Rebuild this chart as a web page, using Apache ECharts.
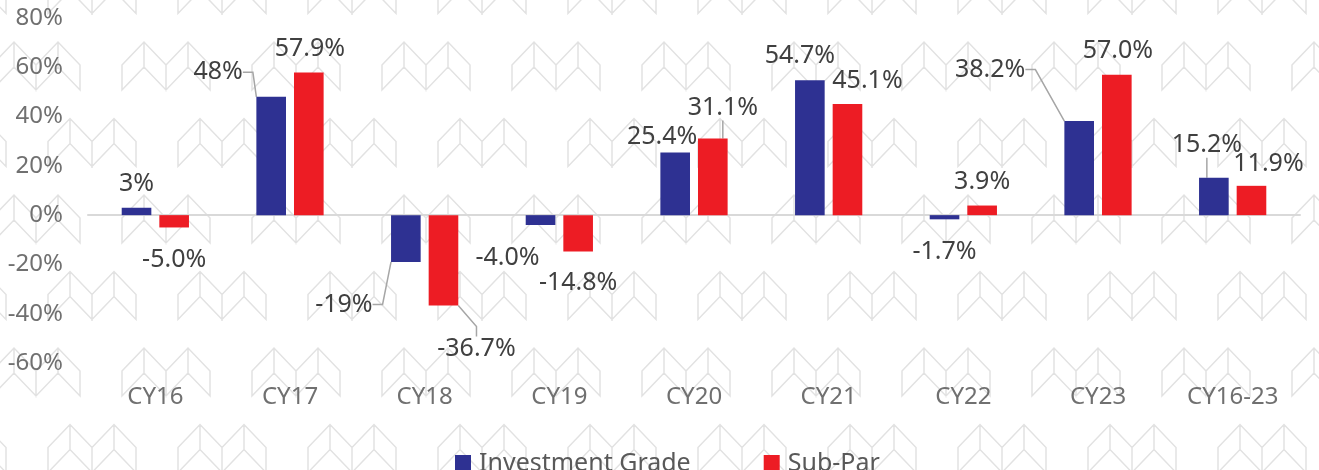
<!DOCTYPE html>
<html>
<head>
<meta charset="utf-8">
<script src="https://cdn.jsdelivr.net/npm/echarts@6/dist/echarts.min.js"></script>
<style>
    html, body { margin: 0; padding: 0; background: #fff; }
    #main { width: 1319px; height: 470px; }
</style>
</head>
<body>
<div id="main"></div>
<script>
"use strict";

// 分类
var categories = ['CY16', 'CY17', 'CY18', 'CY19', 'CY20', 'CY21', 'CY22', 'CY23', 'CY16-23'];
// Investment Grade
var investmentGrade = [3, 48, -19, -4.0, 25.4, 54.7, -1.7, 38.2, 15.2];
var investmentGradeText = ['3%', '48%', '-19%', '-4.0%', '25.4%', '54.7%', '-1.7%', '38.2%', '15.2%'];
// Sub-Par
var subPar = [-5.0, 57.9, -36.7, -14.8, 31.1, 45.1, 3.9, 57.0, 11.9];
var subParText = ['-5.0%', '57.9%', '-36.7%', '-14.8%', '31.1%', '45.1%', '3.9%', '57.0%', '11.9%'];
// y轴刻度
var yMin = -60, yMax = 80, yStep = 20;

// 标签偏移 / 引导线
var igOffset = [[0, -6], [-53, -7], [-62, 25], [-33, 15], [-13, 2], [-10, -7], [0, 15], [-89, -34], [-7, -15]];
var igLeader = [0, 1, 1, 0, 0, 0, 0, 1, 1];
var spOffset = [[0, 15], [1, -6], [33, 26], [0, 14], [10, -13], [20, -6], [0, -6], [1, -6], [17, -4]];
var spLeader = [0, 0, 1, 0, 1, 0, 0, 0, 0];

var FONT = '"Noto Sans", "DejaVu Sans", sans-serif';

// 背景水印
function chevron(c, y) {
    return 'M' + (c - 22) + ',' + (y + 23) + ' L' + c + ',' + y + ' L' + (c + 22) + ',' + (y + 23) +
        ' L' + (c + 22) + ',' + (y + 48) + ' L' + c + ',' + (y + 25) + ' L' + (c - 22) + ',' + (y + 48) + ' Z' +
        ' M' + c + ',' + y + ' L' + c + ',' + (y + 25);
}
function pair(x, y) {
    return chevron(x + 22, y) + ' ' + chevron(x + 66, y);
}
var paths = [pair(-8, 42), pair(122, 42), pair(48, 118.5), pair(-82, 118.5), pair(48, -34.5), pair(-82, -34.5)];
var svg = '<svg xmlns="http://www.w3.org/2000/svg" width="130" height="153">' +
    '<path d="' + paths.join(' ') + '" fill="none" stroke="#e2e2e2" stroke-width="1.5"/></svg>';
document.getElementById('main').style.backgroundImage = 'url("data:image/svg+xml,' + encodeURIComponent(svg) + '")';

function buildData(values, leader) {
    return values.map(function (v, i) {
        return {value: v, labelLine: {show: !!leader[i]}};
    });
}

var labelBase = {
    show: true,
    position: 'outside',
    distance: 5,
    color: '#404040',
    fontFamily: FONT,
    fontSize: 25
};

var option = {
    backgroundColor: 'transparent',
    animation: false,
    grid: {left: 88, right: 19, top: 18, bottom: 107},
    legend: {
        data: ['Investment Grade', 'Sub-Par'],
        left: 450,
        top: 446,
        itemWidth: 16,
        itemHeight: 17,
        itemGap: 73,
        icon: 'rect',
        textStyle: {color: '#595959', fontFamily: FONT, fontSize: 25, padding: [0, 0, 0, 3]}
    },
    xAxis: [
        {
            type: 'category',
            data: categories,
            axisLine: {show: false, onZero: false},
            axisTick: {show: false},
            axisLabel: {color: '#707070', fontFamily: FONT, fontSize: 24, margin: 22}
        },
        {
            type: 'category',
            data: categories,
            position: 'bottom',
            axisLine: {show: true, onZero: true, lineStyle: {color: '#d9d9d9', width: 2}},
            axisTick: {show: false},
            axisLabel: {show: false}
        }
    ],
    yAxis: {
        type: 'value',
        min: yMin,
        max: yMax,
        interval: yStep,
        axisLine: {show: false},
        axisTick: {show: false},
        splitLine: {show: false},
        axisLabel: {
            color: '#707070', fontFamily: FONT, fontSize: 24, margin: 25,
            formatter: function (v) { return v + '%'; }
        }
    },
    series: [
        {
            name: 'Investment Grade',
            type: 'bar',
            xAxisIndex: 0,
            data: buildData(investmentGrade, igLeader),
            barWidth: '22%',
            barGap: '27%',
            itemStyle: {color: '#2E3192'},
            label: Object.assign({}, labelBase, {
                formatter: function (p) { return investmentGradeText[p.dataIndex]; }
            }),
            labelLine: {show: false, length2: 10, lineStyle: {color: '#a6a6a6', width: 1.5}},
            labelLayout: function (p) {
                return {dx: igOffset[p.dataIndex][0], dy: igOffset[p.dataIndex][1]};
            }
        },
        {
            name: 'Sub-Par',
            type: 'bar',
            xAxisIndex: 0,
            data: buildData(subPar, spLeader),
            barWidth: '22%',
            itemStyle: {color: '#ED1C24'},
            label: Object.assign({}, labelBase, {
                formatter: function (p) { return subParText[p.dataIndex]; }
            }),
            labelLine: {show: false, length2: 10, lineStyle: {color: '#a6a6a6', width: 1.5}},
            labelLayout: function (p) {
                return {dx: spOffset[p.dataIndex][0], dy: spOffset[p.dataIndex][1]};
            }
        }
    ]
};

var myChart = echarts.init(document.getElementById('main'), null, {renderer: 'canvas'});
myChart.setOption(option);
</script>
</body>
</html>
